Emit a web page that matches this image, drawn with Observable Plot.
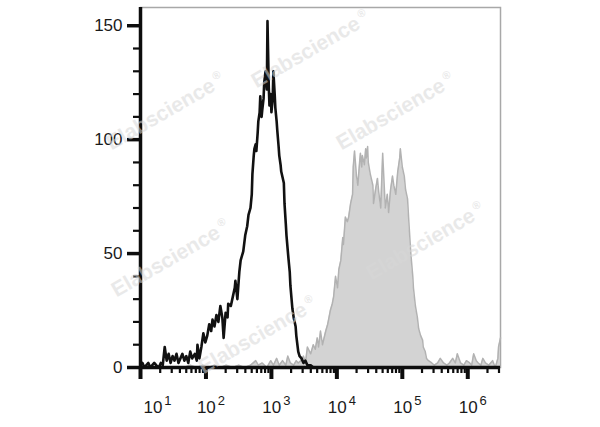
<!DOCTYPE html>
<html><head><meta charset="utf-8">
<script src="https://cdn.jsdelivr.net/npm/d3@7"></script>
<script src="https://cdn.jsdelivr.net/npm/@observablehq/plot@0.6"></script>
<style>
html,body{margin:0;padding:0;background:#fff;}
#wrap{position:relative;width:600px;height:427px;overflow:hidden;}
.wm{position:absolute;font:bold 21px "Liberation Sans",Arial,sans-serif;color:#d8d8d8;opacity:0.55;transform:rotate(-30deg);transform-origin:left bottom;white-space:nowrap;pointer-events:none;line-height:21px;}
.wm sup{font-size:11px;vertical-align:9px;margin-left:3px;}
</style></head><body><div id="wrap"></div>
<script>
// Black (control) histogram: log10 channel and event counts
const blackExp = [1.00,1.03,1.06,1.09,1.12,1.15,1.18,1.21,1.24,1.28,1.31,1.34,
  1.37,1.40,1.43,1.46,1.49,1.52,1.55,1.58,1.61,1.64,1.67,1.70,1.73,
  1.76,1.79,1.83,1.86,1.87,1.90,1.93,1.96,1.99,
  2.02,2.05,2.08,2.10,2.13,2.16,2.19,2.22,2.25,2.27,
  2.30,2.33,2.34,2.38,2.41,2.44,2.45,2.48,2.51,2.53,
  2.56,2.57,2.60,2.63,2.65,2.68,2.70,2.71,2.73,2.74,
  2.76,2.77,2.79,2.80,2.82,2.83,2.85,2.86,2.88,2.89,
  2.91,2.93,2.94,2.96,2.97,2.99,3.00,3.02,3.03,3.05,
  3.06,3.08,3.09,3.11,3.12,3.14,3.15,3.19,3.20,3.22,
  3.23,3.26,3.28,3.29,3.32,3.34,3.37,3.38,3.41,3.43,
  3.46,3.49,3.52,3.55,3.60,3.64,3.69];
const blackCount = [1,2,0,1,2,0,1,2,1,0,2,1,
  9,3,6,2,5,3,6,2,4,6,3,5,2,
  7,4,6,3,10,4,9,15,11,
  14,19,16,21,18,23,20,27,22,13,
  24,22,28,27,31,35,38,30,42,47,
  50,51,58,62,67,70,76,85,93,96,
  98,95,103,108,112,119,110,113,118,125,
  130,122,152,123,115,120,112,118,130,120,
  114,108,104,97,93,89,86,81,72,63,
  58,48,42,36,26,22,18,14,7,5,
  4,2,3,1,1,0,0];

// Gray (stained) histogram
const grayExp = [1.66,1.76,1.86,1.95,2.04,2.13,2.22,2.31,2.41,2.50,2.59,2.68,
  2.76,2.80,2.86,2.93,2.99,3.03,3.08,3.12,3.17,3.22,
  3.25,3.29,3.34,3.38,3.41,3.45,3.49,3.52,3.55,3.60,
  3.64,3.67,3.70,3.72,3.75,3.78,3.83,3.86,3.90,3.93,
  3.95,3.98,4.01,4.03,4.06,4.09,4.10,4.13,4.16,4.18,
  4.21,4.24,4.25,4.27,4.30,4.32,4.35,4.36,4.38,4.39,
  4.42,4.44,4.45,4.47,4.48,4.51,4.55,4.56,4.59,4.62,
  4.64,4.67,4.70,4.71,4.74,4.77,4.79,4.82,4.85,4.87,
  4.90,4.93,4.96,4.97,5.00,5.03,5.05,5.08,5.10,5.13,
  5.16,5.17,5.20,5.23,5.25,5.28,5.31,5.32,5.35,5.37,
  5.40,5.45,5.49,5.54,5.58,5.63,5.68,5.72,5.77,5.81,
  5.84,5.89,5.94,5.98,6.03,6.06,6.09,6.13,6.16,6.20,
  6.23,6.27,6.32,6.35,6.38,6.42,6.46,6.47,6.50];
const grayCount = [0,1,0,1,0,1,0,1,0,1,0,1,
  3,1,2,0,3,1,4,1,3,1,
  5,2,1,3,2,3,5,2,9,6,
  10,8,13,9,16,10,16,19,25,28,
  31,40,35,43,47,57,54,66,64,66,
  72,76,88,95,84,80,91,94,88,93,
  89,96,92,97,90,85,80,72,78,83,
  77,70,94,88,70,76,68,78,84,80,
  76,86,92,96,88,84,78,74,64,50,
  40,35,27,22,17,14,12,9,7,4,
  3,2,1,2,4,2,1,2,4,2,
  6,2,1,3,2,1,6,3,2,1,
  4,2,1,2,3,0,4,9,13];

const xTickExp = [1,2,3,4,5,6];
const xTickLabels = ["1","2","3","4","5","6"];
const yTicks = [0,50,100,150];
const yTickLabels = ["0","50","100","150"];
const yMinorTicks = [10,20,30,40,60,70,80,90,110,120,130,140];
const watermark = "Elabscience";

const black = blackExp.map((e,i)=>({x: 10**e, y: blackCount[i]}));
const gray = grayExp.map((e,i)=>({x: 10**e, y: grayCount[i]}));
const xDomain = [10, 10**6.5];
const yDomain = [0, 158];
const xMajor = xTickExp.map(e => 10**e);
const xMinor = d3.scaleLog().domain(xDomain).ticks()
  .filter(v => Math.abs(Math.log10(v) - Math.round(Math.log10(v))) > 1e-6);

const ink = "#0d0d0d";
const font = '"Liberation Sans", Arial, sans-serif';
const chart = Plot.plot({
  width: 600, height: 427,
  marginLeft: 140, marginRight: 100, marginTop: 7, marginBottom: 60,
  style: {fontFamily: font, fontSize: "17px", color: ink, background: "white"},
  x: {type: "log", domain: xDomain, axis: null, label: null},
  y: {domain: yDomain, axis: null, label: null},
  marks: [
    Plot.frame({stroke: "#a8a8a8", strokeWidth: 1.5}),
    Plot.areaY(gray, {x: "x", y: "y", fill: "#d3d3d3"}),
    Plot.lineY(gray, {x: "x", y: "y", stroke: "#b2b2b2", strokeWidth: 1.5}),
    Plot.lineY(black, {x: "x", y: "y", stroke: "#111", strokeWidth: 2.6}),
    // x ticks (pointing down from the baseline)
    Plot.ruleX(xMinor, {x: d => d, y1: 0, y2: 0, insetBottom: -6, stroke: ink, strokeWidth: 2.2}),
    Plot.ruleX(xMajor, {x: d => d, y1: 0, y2: 0, insetBottom: -12, stroke: ink, strokeWidth: 4}),
    // y ticks (pointing left from the axis)
    Plot.ruleY(yMinorTicks, {y: d => d, x1: xDomain[0], x2: xDomain[0], insetLeft: -7, stroke: ink, strokeWidth: 2.2}),
    Plot.ruleY(yTicks, {y: d => d, x1: xDomain[0], x2: xDomain[0], insetLeft: -13, stroke: ink, strokeWidth: 3.5}),
    // axis lines
    Plot.ruleX([xDomain[0]], {stroke: ink, strokeWidth: 3.5}),
    Plot.ruleY([0], {stroke: ink, strokeWidth: 3.5}),
    Plot.text(xMajor, {x: d => d, frameAnchor: "bottom", dy: 45, dx: 5, lineAnchor: "bottom",
      text: (d, i) => "10^" + xTickLabels[i], fontSize: 17, fill: "#1a1a1a"}),
    Plot.text(yTicks, {y: d => d, frameAnchor: "left", dx: -18, textAnchor: "end",
      text: (d, i) => yTickLabels[i], fontSize: 17, fill: "#1a1a1a"})
  ]
});
const wrap = document.getElementById("wrap");
wrap.appendChild(chart);

// superscript exponents (the first label sits a little right of its tick in the reference)
chart.querySelectorAll("text").forEach(t => {
  const s = t.textContent;
  if (s.startsWith("10^")) {
    const exp = s.slice(3);
    t.textContent = "10";
    if (exp === "1") t.setAttribute("transform", (t.getAttribute("transform") || "") + " translate(12,0)");
    const ts = document.createElementNS("http://www.w3.org/2000/svg", "tspan");
    ts.setAttribute("dy", "-0.55em");
    ts.setAttribute("dx", "2");
    ts.setAttribute("font-size", "13");
    ts.textContent = exp;
    t.appendChild(ts);
  }
});

// faint watermarks
[[258,86],[113,148],[343,148],[118,295],[373,278],[205,372]].forEach(([l,b]) => {
  const d = document.createElement("div");
  d.className = "wm";
  d.innerHTML = watermark + "<sup>®</sup>";
  d.style.left = l + "px";
  d.style.top = (b - 21) + "px";
  wrap.appendChild(d);
});
</script>
</body></html>
